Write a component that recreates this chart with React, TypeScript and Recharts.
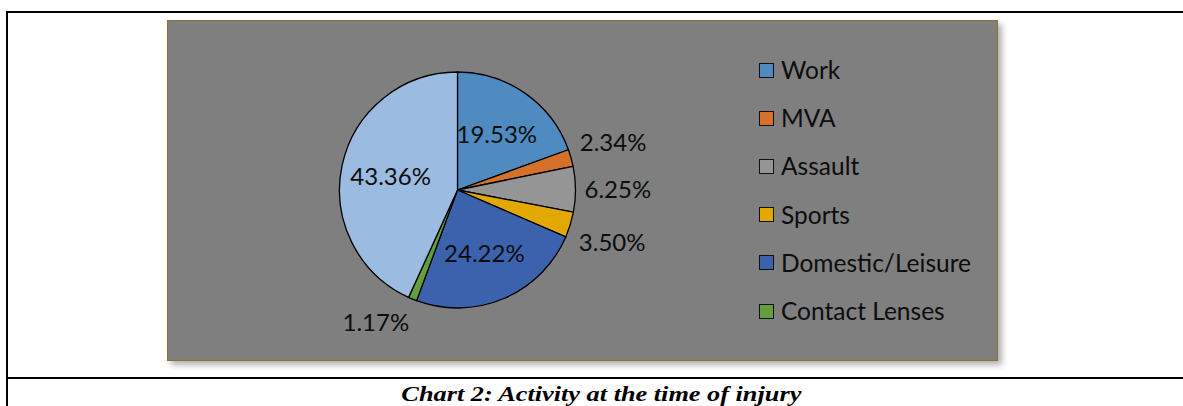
import React from "react";
import { PieChart, Pie, Cell, Legend } from "recharts";

const categories = ["Work", "MVA", "Assault", "Sports", "Domestic/Leisure", "Contact Lenses", ""];
const values = [19.53, 2.34, 6.25, 3.5, 24.22, 1.17, 43.36];
const colors = ["#4f8bc1", "#d6712b", "#959595", "#e3a800", "#3c62ad", "#62a03e", "#9bbce0"];
const captionText = "Chart 2: Activity at the time of injury";

const data = categories.map((name, i) => ({ name, value: values[i] }));

const RADIAN = Math.PI / 180;
const FONT = "Lato, 'Open Sans', sans-serif";

const renderLabel = (props: any) => {
  const { cx, cy, midAngle, outerRadius, value, index } = props;
  const cos = Math.cos(-midAngle * RADIAN);
  const sin = Math.sin(-midAngle * RADIAN);
  const text = `${Number(value).toFixed(2)}%`;
  if (value >= 10) {
    const r = outerRadius * 0.58;
    return (
      <text key={`l${index}`} x={cx + r * cos} y={cy + r * sin} textAnchor="middle" dominantBaseline="central"
        fill="#0d0d0d" fontSize={24} fontFamily={FONT}>
        {text}
      </text>
    );
  }
  const r = outerRadius + 9;
  const up = -sin;
  const k = Math.max(-1, Math.min(1, up / 0.25));
  const x = cx + r * cos;
  const y = cy + r * sin - 14 * k;
  return (
    <text key={`l${index}`} x={x} y={y} textAnchor={cos >= 0 ? "start" : "end"} dominantBaseline="central"
      fill="#0d0d0d" fontSize={24} fontFamily={FONT}>
      {text}
    </text>
  );
};

const renderLegend = (props: any) => {
  const payload = (props.payload || [])
    .filter((p: any) => p.value !== "" && p.value != null)
    .slice()
    .sort((a: any, b: any) => categories.indexOf(a.value) - categories.indexOf(b.value));
  return (
    <div style={{ display: "flex", flexDirection: "column" }}>
      {payload.map((p: any) => {
        const idx = categories.indexOf(p.value);
        return (
          <div key={p.value} style={{ height: 48.2, display: "flex", alignItems: "center" }}>
            <span style={{ width: 15, height: 15, boxSizing: "border-box", border: "1.5px solid #111", background: colors[idx], marginRight: 7, flex: "none" }} />
            <span style={{ fontFamily: FONT, fontSize: 24.5, color: "#0d0d0d", lineHeight: "24px", whiteSpace: "nowrap" }}>{p.value}</span>
          </div>
        );
      })}
    </div>
  );
};

export default function App() {
  return (
    <div style={{ position: "fixed", left: 0, top: 0, width: 1183, height: 406, overflow: "hidden", background: "#ffffff" }}>
      <div style={{ position: "absolute", left: 6, top: 11, width: 1200, height: 2, background: "#000" }} />
      <div style={{ position: "absolute", left: 6, top: 11, width: 2, height: 400, background: "#000" }} />
      <div style={{ position: "absolute", left: 6, top: 377, width: 1200, height: 2, background: "#000" }} />
      <div style={{ position: "absolute", left: 167, top: 20, width: 831, height: 341, boxSizing: "border-box", background: "#7f7f7f", border: "1.5px solid #8a7230", boxShadow: "4px 4px 6px rgba(0,0,0,0.3)" }} />
      <div style={{ position: "absolute", left: 0, top: 0 }}>
        <PieChart width={1183} height={406} margin={{ top: 0, right: 0, bottom: 0, left: 0 }}>
          <Pie
            data={data}
            dataKey="value"
            nameKey="name"
            cx={457.5}
            cy={190}
            outerRadius={118}
            startAngle={90}
            endAngle={-270}
            stroke="#000"
            strokeWidth={1.3}
            label={renderLabel}
            labelLine={false}
            isAnimationActive={false}
          >
            {data.map((d, i) => (
              <Cell key={d.name + i} fill={colors[i]} />
            ))}
          </Pie>
          <Legend
            layout="vertical"
            align="right"
            verticalAlign="top"
            content={renderLegend}
            wrapperStyle={{ position: "absolute", left: 759, top: 46, width: 230, right: "auto", bottom: "auto" }}
          />
        </PieChart>
      </div>
      <div style={{ position: "absolute", left: 0, top: 383.2, width: 1202, textAlign: "center", fontFamily: "'Liberation Serif', 'Times New Roman', serif", fontWeight: "bold", fontStyle: "italic", fontSize: 22, lineHeight: "22px", color: "#000", whiteSpace: "nowrap" }}>
        <span style={{ display: "inline-block", transform: "scaleX(1.195)", transformOrigin: "center" }}>{captionText}</span>
      </div>
    </div>
  );
}
